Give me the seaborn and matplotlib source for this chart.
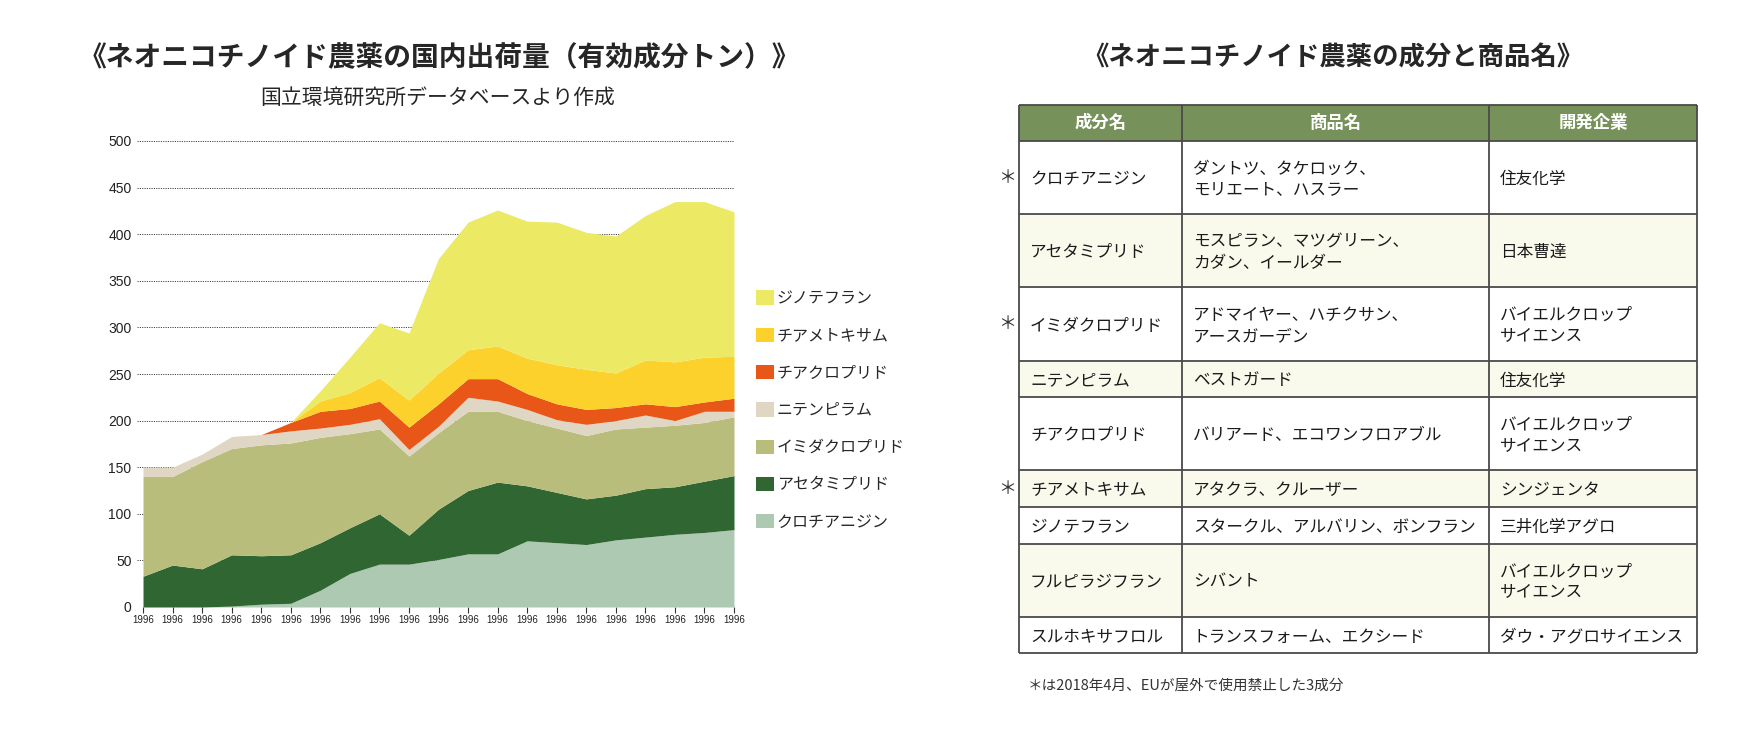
import matplotlib
matplotlib.use("Agg")
import matplotlib.pyplot as plt
from matplotlib.patches import Rectangle
import seaborn as sns

# ---- chart data (tonnes of active ingredient) ----
years = ["1996"] * 21  # the reference labels every tick "1996"
clothianidin = [0, 0, 0, 1, 3, 4, 18, 36, 46, 46, 51, 57, 57, 71, 69, 67, 72, 75, 78, 80, 83]
acetamiprid = [33, 45, 41, 55, 52, 52, 51, 49, 54, 31, 54, 68, 77, 59, 54, 49, 48, 52, 51, 55, 58]
imidacloprid = [107, 95, 115, 114, 119, 120, 113, 101, 91, 85, 82, 85, 76, 70, 69, 68, 71, 66, 66, 63, 63]
nitenpyram = [10, 10, 8, 13, 11, 13, 10, 10, 11, 7, 7, 15, 11, 12, 9, 12, 9, 13, 5, 12, 6]
thiacloprid = [0, 0, 0, 0, 0, 9, 18, 17, 19, 24, 24, 20, 24, 17, 17, 16, 14, 12, 15, 10, 14]
thiamethoxam = [0, 0, 0, 0, 0, 0, 11, 17, 25, 29, 33, 31, 35, 38, 42, 43, 37, 47, 48, 48, 45]
dinotefuran = [0, 0, 0, 0, 0, 0, 11, 38, 59, 72, 123, 137, 146, 147, 153, 147, 147, 155, 172, 167, 155]

series_names = ["クロチアニジン", "アセタミプリド", "イミダクロプリド", "ニテンピラム",
                "チアクロプリド", "チアメトキサム", "ジノテフラン"]
series_values = [clothianidin, acetamiprid, imidacloprid, nitenpyram,
                 thiacloprid, thiamethoxam, dinotefuran]
series_colors = ["#AEC9B2", "#2F6631", "#B8BD7B", "#DFD6C3",
                 "#E85618", "#FDD12B", "#ECE964"]

# ---- table data ----
ingredients = ["クロチアニジン", "アセタミプリド", "イミダクロプリド", "ニテンピラム",
               "チアクロプリド", "チアメトキサム", "ジノテフラン", "フルピラジフラン",
               "スルホキサフロル"]
products = ["ダントツ、タケロック、\nモリエート、ハスラー",
            "モスピラン、マツグリーン、\nカダン、イールダー",
            "アドマイヤー、ハチクサン、\nアースガーデン",
            "ベストガード",
            "バリアード、エコワンフロアブル",
            "アタクラ、クルーザー",
            "スタークル、アルバリン、ボンフラン",
            "シバント",
            "トランスフォーム、エクシード"]
companies = ["住友化学", "日本曹達", "バイエルクロップ\nサイエンス", "住友化学",
             "バイエルクロップ\nサイエンス", "シンジェンタ", "三井化学アグロ",
             "バイエルクロップ\nサイエンス", "ダウ・アグロサイエンス"]
eu_banned = [True, False, True, False, False, True, False, False, False]
headers = ["成分名", "商品名", "開発企業"]

sns.set_theme(style="white")
plt.rcParams["font.family"] = ["Noto Sans CJK JP", "DejaVu Sans"]

W, H = 1754, 732
fig = plt.figure(figsize=(W / 100, H / 100), dpi=100)

# ---- stacked area chart ----
x0, x1, y0, y1 = 137.1, 734, 607, 141
ax = fig.add_axes([x0 / W, 1 - y0 / H, (x1 - x0) / W, (y0 - y1) / H])
palette = sns.color_palette(series_colors)
ax.stackplot(range(len(years)), *series_values, labels=series_names,
             colors=palette, linewidth=0)
ax.set_xlim(-0.2, len(years) - 1)
ax.set_ylim(0, 500)
ax.set_yticks(range(0, 501, 50))
ax.set_xticks(range(len(years)))
ax.set_xticklabels(years, fontsize=7, family=["Liberation Sans", "DejaVu Sans"])
for lab in ax.get_yticklabels():
    lab.set_family(["Liberation Sans", "DejaVu Sans"])
ax.tick_params(axis="y", length=0, pad=4, labelsize=10, labelcolor="#222222")
ax.tick_params(axis="x", bottom=True, length=4, width=0.8, color="#333333",
               pad=2, labelcolor="#222222")
ax.yaxis.grid(True, linestyle=(0, (1.2, 1.2)), color="#444444", linewidth=0.7)
ax.set_axisbelow(True)
sns.despine(ax=ax, left=True, bottom=True)

handles, labels = ax.get_legend_handles_labels()
ax.legend(handles[::-1], labels[::-1], loc="upper left",
          bbox_to_anchor=(756 / W, 1 - 290 / H), bbox_transform=fig.transFigure,
          frameon=False, fontsize=11.5, handlelength=1.1, handleheight=1.0,
          handletextpad=0.2, labelspacing=1.27, borderpad=0, borderaxespad=0)

fig.text(439 / W, 1 - 58 / H, "《ネオニコチノイド農薬の国内出荷量（有効成分トン）》",
         ha="center", va="center", fontsize=20, weight="bold")
fig.text(438 / W, 1 - 98 / H, "国立環境研究所データベースより作成",
         ha="center", va="center", fontsize=15)

# ---- table ----
tax = fig.add_axes([0, 0, 1, 1])
tax.set_xlim(0, W)
tax.set_ylim(H, 0)
tax.axis("off")

fig.text(1333 / W, 1 - 58 / H, "《ネオニコチノイド農薬の成分と商品名》",
         ha="center", va="center", fontsize=19, weight="bold")

col_edges = [1019, 1182, 1489, 1697]
top, head_h, unit_h = 105, 36, 36.6
line_col = "#4a4a4a"

tax.add_patch(Rectangle((col_edges[0], top), col_edges[-1] - col_edges[0], head_h,
                        facecolor="#76925A", edgecolor="none"))
for c, h in enumerate(headers):
    tax.text((col_edges[c] + col_edges[c + 1]) / 2, top + head_h / 2, h,
             ha="center", va="center", color="white", fontsize=12.5, weight="bold")

y = top + head_h
row_lines = [top, y]
for i in range(len(ingredients)):
    nlines = max(products[i].count("\n"), companies[i].count("\n")) + 1
    rh = unit_h * nlines
    fill = "white" if i % 2 == 0 else "#F9FAEC"
    tax.add_patch(Rectangle((col_edges[0], y), col_edges[-1] - col_edges[0], rh,
                            facecolor=fill, edgecolor="none"))
    for c, txt in enumerate([ingredients[i], products[i], companies[i]]):
        tax.text(col_edges[c] + 11, y + rh / 2 + 2, txt, ha="left", va="center",
                 fontsize=12, linespacing=1.3, color="#1a1a1a")
    if eu_banned[i]:
        tax.text(1007, y + rh / 2, "＊", ha="center", va="center",
                 fontsize=13, color="#333333")
    y += rh
    row_lines.append(y)

for ry in row_lines:
    tax.plot([col_edges[0], col_edges[-1]], [ry, ry], color=line_col, lw=1.3,
             solid_capstyle="butt")
for cx in col_edges:
    tax.plot([cx, cx], [top, y], color=line_col, lw=1.3, solid_capstyle="butt")

tax.text(1028, 686, "＊は2018年4月、EUが屋外で使用禁止した3成分", ha="left",
         va="center", fontsize=10.5, color="#333333")

fig.savefig("out.png", dpi=100)
